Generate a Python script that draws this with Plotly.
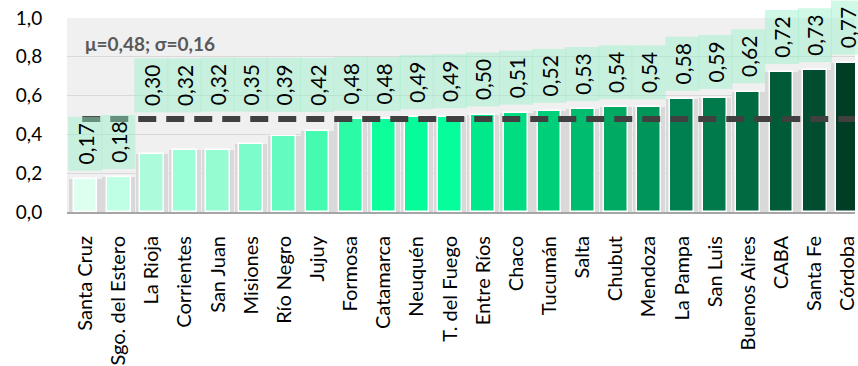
import plotly.graph_objects as go

# Provinces ordered by index value
provinces = [
    "Santa Cruz", "Sgo. del Estero", "La Rioja", "Corrientes", "San Juan",
    "Misiones", "Río Negro", "Jujuy", "Formosa", "Catamarca", "Neuquén",
    "T. del Fuego", "Entre Ríos", "Chaco", "Tucumán", "Salta", "Chubut",
    "Mendoza", "La Pampa", "San Luis", "Buenos Aires", "CABA", "Santa Fe",
    "Córdoba",
]
values = [
    0.17, 0.18, 0.30, 0.32, 0.32, 0.35, 0.39, 0.42, 0.48, 0.48, 0.49, 0.49,
    0.50, 0.51, 0.52, 0.53, 0.54, 0.54, 0.58, 0.59, 0.62, 0.72, 0.73, 0.77,
]
MEAN = 0.48
STD = 0.16
y_ticks = [0.0, 0.2, 0.4, 0.6, 0.8, 1.0]
y_tick_text = ["0,0", "0,2", "0,4", "0,6", "0,8", "1,0"]

# Light-to-dark green ramp, one shade per bar
bar_colors = [
    "#dcfff0", "#bfffe6", "#acfcdb", "#9afed6", "#95fbd0", "#7dfccb",
    "#63fbbf", "#44fbb0", "#2afba4", "#0cff9a", "#05fc98", "#06fd9c",
    "#00e88a", "#00dc82", "#00cf7a", "#00bc6e", "#00aa63", "#00965a",
    "#008050", "#007a4b", "#006a40", "#005c37", "#004e2f", "#003d24",
]


def fmt(v):
    return f"{v:.2f}".replace(".", ",")


fig = go.Figure()

# soft grey shadow behind each bar
fig.add_trace(go.Bar(
    x=provinces, y=values, width=0.98,
    marker=dict(color="#d9d9d9", line=dict(width=0)),
    hoverinfo="skip", showlegend=False,
))
fig.add_trace(go.Bar(
    x=provinces, y=values, width=0.72,
    marker=dict(color=bar_colors, line=dict(color="white", width=1.5)),
    showlegend=False,
))

# mean reference line
fig.add_shape(
    type="line", xref="x", yref="y",
    x0=-0.1, x1=23.22, y0=MEAN, y1=MEAN,
    line=dict(color="#404040", width=6, dash="18px,10px"),
    layer="above",
)

# value labels in mint boxes; a box that would straddle the mean line
# is lifted just above it
LABEL_GAP = 0.04
LABEL_H = 0.272
for i, (p, v) in enumerate(zip(provinces, values)):
    base = v + LABEL_GAP
    if base < MEAN + 0.02 and base + LABEL_H > MEAN + 0.02:
        base = max(base, MEAN + 0.033)
    fig.add_annotation(
        x=p, y=base, xref="x", yref="y",
        text=fmt(v), textangle=-90, showarrow=False,
        xanchor="center", yanchor="bottom",
        width=53, height=33, borderpad=0,
        bgcolor="rgba(150,240,200,0.45)",
        font=dict(family="Lato", size=21, color="black"),
    )

fig.add_annotation(
    x=0.02, y=0.867, xref="paper", yref="y",
    text=f"<b>μ={fmt(MEAN)}; σ={fmt(STD)}</b>",
    showarrow=False, xanchor="left", yanchor="middle",
    font=dict(family="Lato", size=19, color="#595959"),
)

fig.update_layout(
    width=858, height=366,
    margin=dict(l=67, r=0, t=18, b=153),
    paper_bgcolor="white", plot_bgcolor="#f0f0f0",
    barmode="overlay", bargap=0,
    font=dict(family="Lato", color="black"),
)
fig.update_xaxes(
    range=[-0.56, 23.22], tickangle=-90,
    ticks="outside", ticklen=14, tickcolor="rgba(0,0,0,0)",
    tickfont=dict(family="Lato", size=20, color="black"),
    showline=True, linecolor="#a6a6a6", linewidth=2,
    showgrid=False,
)
fig.update_yaxes(
    range=[0, 1.0], tickvals=y_ticks, ticktext=y_tick_text,
    ticks="outside", ticklen=20, tickcolor="rgba(0,0,0,0)",
    tickfont=dict(family="Lato", size=19, color="black"),
    showgrid=True, gridcolor="#d9d9d9", gridwidth=1,
    zeroline=False, showline=False,
)

fig.write_html("out.html")
